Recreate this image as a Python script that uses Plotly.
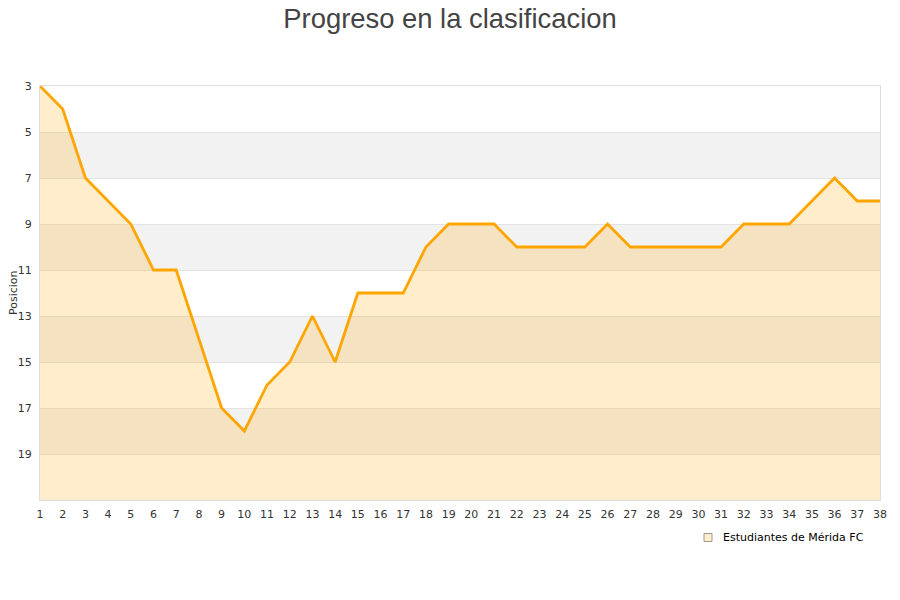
import plotly.graph_objects as go

jornadas = list(range(1, 39))
posiciones = [3, 4, 7, 8, 9, 11, 11, 14, 17, 18, 16, 15, 13, 15, 12, 12, 12, 10, 9, 9,
              9, 10, 10, 10, 10, 9, 10, 10, 10, 10, 10, 9, 9, 9, 8, 7, 8, 8]
equipo = "Estudiantes de Mérida FC"
y_ticks = [3, 5, 7, 9, 11, 13, 15, 17, 19]
y_min, y_max = 3, 21

W, H = 900, 600
OFF = 8  # page body margin
L, R, T, B = 40 - OFF, 20 + OFF, 86 - OFF, 100 + OFF
pw, ph = W - L - R, H - T - B


def px_x(sx):
    return (sx - OFF - L) / pw


def px_y(sy):
    return 1 - (sy - OFF - T) / ph


fig = go.Figure()

# baseline for fill
fig.add_trace(go.Scatter(x=jornadas, y=[y_max] * len(jornadas), mode="lines",
                         line=dict(width=0), showlegend=False, hoverinfo="skip"))
fig.add_trace(go.Scatter(x=jornadas, y=posiciones, mode="lines", name=equipo,
                         line=dict(color="#FFA500", width=2.8),
                         fill="tonexty", fillcolor="rgba(255,165,0,0.2)",
                         showlegend=False))

shapes = []
for b in range(5, 21, 4):
    shapes.append(dict(type="rect", xref="paper", yref="y", x0=0, x1=1, y0=b, y1=b + 2,
                       fillcolor="#f2f2f2", line=dict(width=0), layer="below"))
# legend swatch
shapes.append(dict(type="rect", xref="paper", yref="paper",
                   x0=px_x(704), x1=px_x(712), y0=px_y(541.5), y1=px_y(533.5),
                   fillcolor="rgba(255,165,0,0.2)", line=dict(color="#999", width=1)))

annotations = [
    dict(text=equipo, xref="paper", yref="paper", x=px_x(721), y=px_y(537.5),
         xanchor="left", yanchor="middle", showarrow=False,
         font=dict(family="DejaVu Sans", size=11, color="#000")),
    dict(text="Posicion", xref="paper", yref="paper", x=px_x(13), y=px_y(293),
         xanchor="center", yanchor="middle", textangle=-90, showarrow=False,
         font=dict(family="DejaVu Sans", size=11, color="#333")),
]

fig.update_layout(
    width=W, height=H,
    paper_bgcolor="white", plot_bgcolor="white",
    margin=dict(l=L, r=R, t=T, b=B),
    title=dict(text="Progreso en la clasificacion", x=(450 - OFF) / W, xanchor="center",
               y=1 - 1 / H, yanchor="top", pad=dict(t=0, b=0, l=0, r=0),
               font=dict(family="Liberation Sans", size=27.4, color="#444")),
    font=dict(family="DejaVu Sans", size=11, color="#333"),
    shapes=shapes,
    annotations=annotations,
    showlegend=False,
    xaxis=dict(range=[1, 38], tickmode="array", tickvals=jornadas, showgrid=False,
               zeroline=False, showline=True, linecolor="#ddd", linewidth=1, mirror=True,
               ticks="", ticklabelstandoff=4, tickfont=dict(size=11, color="#333"),
               automargin=False, fixedrange=True),
    yaxis=dict(range=[y_max, y_min], tickmode="array", tickvals=y_ticks,
               showgrid=True, gridcolor="#e3e3e3", gridwidth=1, zeroline=False,
               showline=True, linecolor="#ddd", linewidth=1, mirror=True, ticks="",
               ticklabelstandoff=5, tickfont=dict(size=11, color="#333"),
               automargin=False, fixedrange=True),
)

fig.write_html("out.html")
